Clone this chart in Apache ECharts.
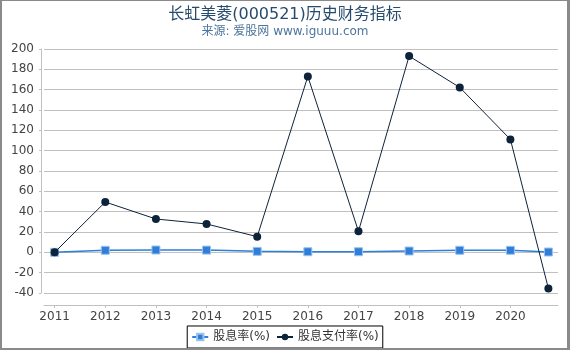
<!DOCTYPE html>
<html>
<head>
<meta charset="utf-8">
<script src="https://cdn.jsdelivr.net/npm/echarts@6/dist/echarts.min.js"></script>
<style>
html,body{margin:0;padding:0;background:#fff;}
#wrap{position:relative;width:570px;height:350px;}
#chart{position:absolute;left:0;top:0;width:570px;height:350px;}
#frame{position:absolute;left:0;top:0;width:570px;height:350px;box-sizing:border-box;border-style:solid;border-color:#8a8a8a;border-width:1px 3px 2px 2px;pointer-events:none;}
</style>
</head>
<body>
<div id="wrap"><div id="chart"></div><div id="frame"></div></div>
<script>
// Tick labels on the x axis
var yearTicks = [2011, 2012, 2013, 2014, 2015, 2016, 2017, 2018, 2019, 2020];
// x positions of data points (last one is a partial-year report)
var xPoints = [2011, 2012, 2013, 2014, 2015, 2016, 2017, 2018, 2019, 2020, 2020.75];
// 股息率(%)
var dividendYield = [0, 2.0, 2.3, 2.2, 1.0, 0.6, 0.6, 1.3, 2.0, 2.0, 0.3];
// 股息支付率(%)
var payoutRatio = [0, 49.5, 32.8, 27.9, 15.4, 173, 20.7, 193, 162.2, 111.1, -35.5];

var titleText = '长虹美菱(000521)历史财务指标';
var subtitleText = '来源: 爱股网 www.iguuu.com';
var seriesNames = ['股息率(%)', '股息支付率(%)'];

function pairs(xs, ys) {
  var out = [];
  for (var i = 0; i < xs.length; i++) out.push([xs[i], ys[i]]);
  return out;
}

var FONT = '"DejaVu Sans", "Noto Sans CJK SC", sans-serif';
var chart = echarts.init(document.getElementById('chart'), null, {renderer: 'canvas'});
chart.setOption({
  animation: false,
  title: [
    {text: titleText, left: 'center', top: 2,
     textStyle: {fontFamily: FONT, fontSize: 16, fontWeight: 'normal', color: '#274b6d'}},
    {text: subtitleText, left: 'center', top: 21,
     textStyle: {fontFamily: FONT, fontSize: 12, fontWeight: 'normal', color: '#4d759e'}}
  ],
  legend: {
    left: 'center', bottom: 2,
    borderColor: '#000', borderWidth: 1, borderRadius: 0,
    padding: [5, 4],
    itemWidth: 16, itemHeight: 8, itemGap: 6,
    textStyle: {fontFamily: FONT, fontSize: 12, color: '#333'},
    data: seriesNames
  },
  grid: {left: 44, right: 12, top: 49, bottom: 57, containLabel: false},
  xAxis: {
    type: 'value',
    min: 2010.79, max: 2020.94,
    offset: 12,
    axisLine: {show: true, onZero: false, lineStyle: {color: '#C0C0C0', width: 1}},
    axisTick: {show: true, length: 3, lineStyle: {color: '#C0C0C0'}, customValues: yearTicks},
    axisLabel: {fontFamily: FONT, fontSize: 12, color: '#444', margin: 6,
                customValues: yearTicks, formatter: function (v) { return String(v); }},
    splitLine: {show: false}
  },
  yAxis: {
    type: 'value',
    min: -40, max: 200, interval: 20,
    offset: 3,
    axisLine: {show: true, onZero: false, lineStyle: {color: '#C0C0C0', width: 1}},
    axisTick: {show: true, length: 2, lineStyle: {color: '#C0C0C0'}},
    axisLabel: {fontFamily: FONT, fontSize: 12, color: '#444', margin: 7},
    splitLine: {show: true, lineStyle: {color: '#C0C0C0', width: 1}}
  },
  series: [
    {
      name: seriesNames[0], type: 'line',
      data: pairs(xPoints, dividendYield),
      symbol: 'rect', symbolSize: 8, showSymbol: true,
      lineStyle: {color: '#2f7ed8', width: 1.5},
      itemStyle: {color: '#2f7ed8', borderColor: '#9cc3ee', borderWidth: 1},
      z: 3
    },
    {
      name: seriesNames[1], type: 'line',
      data: pairs(xPoints, payoutRatio),
      symbol: 'circle', symbolSize: 8, showSymbol: true,
      lineStyle: {color: '#0d233a', width: 1},
      itemStyle: {color: '#0d233a'},
      z: 4
    }
  ]
});
</script>
</body>
</html>
